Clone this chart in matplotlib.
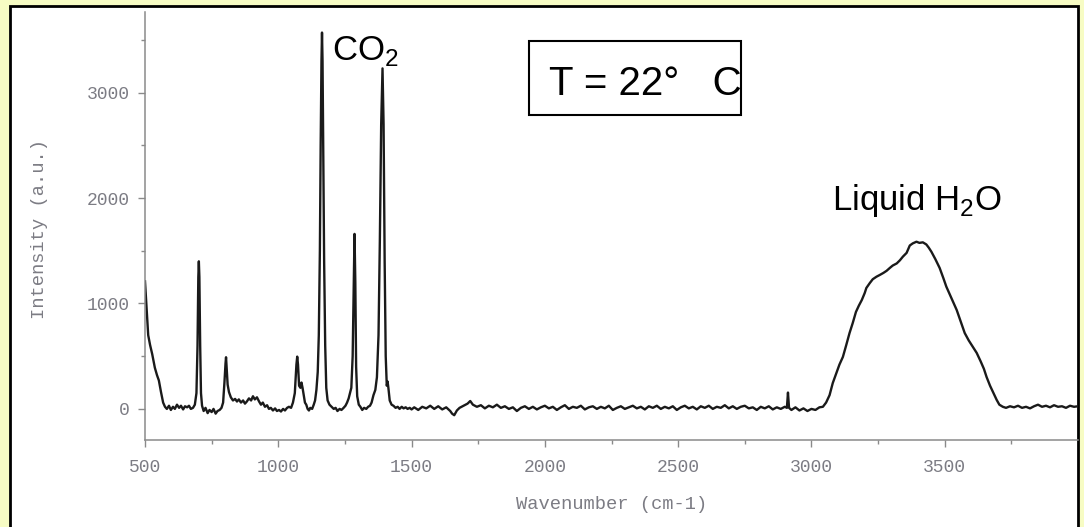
import numpy as np
import matplotlib
matplotlib.use("Agg")
import matplotlib.pyplot as plt
from matplotlib.patches import Rectangle

shift_low = [500, 505, 512, 519, 527, 537, 545, 552, 560, 568, 575, 582, 590, 597,
             605, 612, 620, 628, 635, 643, 650, 658, 665, 672, 680, 687, 693, 697,
             700, 702, 704, 707, 710, 714, 720, 727, 735, 742, 750, 757, 765, 772,
             780, 787, 793, 798, 802, 804, 806, 810, 815, 822, 830, 838, 845, 852,
             860, 868, 875, 882, 890, 898, 905, 912, 920, 928, 935, 942, 950, 958,
             965, 972, 980, 988, 995, 1003, 1010, 1018, 1025, 1033, 1040, 1048, 1055,
             1062, 1068, 1071, 1074, 1078, 1083, 1087, 1091, 1096, 1100, 1105, 1110,
             1115, 1120, 1127, 1133, 1138, 1143, 1148, 1152, 1156, 1159, 1162, 1164,
             1166, 1169, 1172, 1176, 1180, 1185, 1192, 1200, 1208, 1215, 1222, 1230,
             1237, 1245, 1252, 1258, 1264, 1269, 1274, 1279, 1283, 1286, 1289, 1292,
             1296, 1302, 1308, 1315, 1322, 1330, 1337, 1344, 1350, 1357, 1364, 1370,
             1376, 1381, 1386, 1391, 1395, 1399, 1403, 1407, 1410, 1413, 1418, 1425,
             1432, 1440, 1448, 1455, 1463, 1470, 1478, 1485, 1493, 1500]
counts_low = [1210, 1000, 700, 607, 520, 390, 320, 270, 160, 60, 20, 0, 30, -10,
              20, 0, 40, 10, 30, -5, 25, 15, 30, 0, 10, 40, 150, 600,
              1250, 1400, 1250, 600, 150, 30, -20, 10, -40, -10, -30, 0, -45, -20,
              -10, 10, 60, 250, 430, 490, 400, 230, 160, 110, 80, 95, 70, 90,
              60, 80, 50, 70, 100, 80, 120, 90, 110, 70, 40, 60, 20, 35,
              0, 10, -15, 5, -20, -10, -25, 0, -15, 10, 20, 10, 60,
              150, 420, 496, 420, 220, 200, 250, 200, 120, 60, 40, 0,
              -15, 10, 0, 40, 80, 180, 350, 700, 1500, 2500, 3300, 3570,
              3300, 2400, 1400, 600, 200, 80, 40, 20, 0, 10, -20, 0,
              -10, 10, 30, 60, 100, 150, 200, 500, 1200, 1660, 1200, 400,
              120, 40, 20, -10, 10, 0, 20, 30, 60, 130, 180, 300,
              700, 1600, 2700, 3230, 2700, 1400, 500, 220, 260, 200, 80, 40,
              30, 10, 20, 0, 20, 5, 15, 0, 10, -5]

shift_mid = [1510, 1525, 1540, 1555, 1570, 1585, 1600, 1615, 1630, 1645, 1652, 1660,
             1670, 1680, 1695, 1710, 1720, 1730, 1745, 1760, 1775, 1790, 1805, 1820, 1835,
             1850, 1865, 1880, 1895, 1910, 1925, 1940, 1955, 1970, 1985, 2000, 2015,
             2030, 2045, 2060, 2075, 2090, 2105, 2120, 2135, 2150, 2165, 2180, 2195,
             2210, 2225, 2240, 2255, 2270, 2285, 2300, 2315, 2330, 2345, 2360, 2375,
             2390, 2405, 2420, 2435, 2450, 2465, 2480, 2495, 2510, 2525, 2540, 2555,
             2570, 2585, 2600, 2615, 2630, 2645, 2660, 2675, 2690, 2705, 2720, 2735,
             2750, 2765, 2780, 2795, 2810, 2825, 2840, 2855, 2870, 2885, 2900, 2908,
             2912, 2916, 2925, 2940, 2955, 2970, 2985, 3000]
counts_mid = [15, -10, 20, 5, 30, 0, 25, -5, 15, -20, -45, -60,
              -15, 10, 30, 50, 75, 40, 20, 35, 5, 30, 15, 40, 10,
              25, 0, 15, -20, 10, 25, 0, 20, -5, 15, 30, 5,
              20, -10, 15, 35, 0, 20, 10, 30, -5, 15, 25, 0,
              20, 5, 30, -10, 10, 25, 0, 15, 30, 5, 20, -5,
              25, 10, 30, 0, 20, 5, 25, -10, 15, 30, 5, 20,
              -5, 25, 10, 30, 0, 20, 10, 35, 5, 25, 0, 20,
              30, 5, 15, -10, 20, 5, 25, -5, 15, 0, 20, 10,
              155, 10, -10, 15, -15, 5, -20, 0]

shift_water = [3015, 3030, 3043, 3055, 3068, 3080, 3095, 3105, 3118, 3130, 3143, 3155,
               3167, 3178, 3189, 3200, 3206, 3219, 3230, 3244, 3256, 3270, 3282, 3294,
               3305, 3320, 3332, 3343, 3357, 3369, 3380, 3394, 3405, 3418, 3431, 3440,
               3450, 3465, 3481, 3495, 3506, 3520, 3532, 3545, 3560, 3575, 3590, 3605,
               3620, 3635, 3647, 3657, 3670, 3683, 3695, 3705, 3718, 3730, 3745, 3760,
               3775, 3790, 3805, 3820, 3835, 3850, 3865, 3880, 3895, 3910, 3925, 3940,
               3955, 3970, 3985, 4000]
counts_water = [-10, 15, 20, 60, 130, 245, 350, 420, 493, 600, 720, 815,
                920, 980, 1033, 1100, 1147, 1194, 1230, 1254, 1270, 1290, 1310, 1337,
                1360, 1380, 1410, 1444, 1480, 1550, 1570, 1586, 1575, 1580, 1560, 1530,
                1491, 1420, 1337, 1240, 1160, 1080, 1010, 938, 830, 720, 650, 590,
                531, 450, 380, 303, 220, 150, 85, 40, 20, 10, 25, 15,
                30, 10, 20, 5, 25, 40, 20, 30, 15, 35, 20, 25,
                10, 30, 20, 25]

x_ticks = [500, 1000, 1500, 2000, 2500, 3000, 3500]
y_ticks = [0, 1000, 2000, 3000]

plt.rcParams['mathtext.fontset'] = 'custom'
plt.rcParams['mathtext.rm'] = 'Liberation Sans'

W, H = 1084, 527
fig = plt.figure(figsize=(W / 100, H / 100), dpi=100, facecolor='#F7FCC4')

# white slide panel with black frame, kept behind the axes
fig.patches.append(Rectangle((10 / W, -0.05), 1068 / W, 1.05 - 6 / H,
                             transform=fig.transFigure, facecolor='white',
                             edgecolor='black', linewidth=2.0, zorder=-10))

ax = fig.add_axes([145 / W, 1 - 440 / H, 933 / W, 428 / H])
ax.patch.set_visible(False)

wn = np.concatenate([shift_low, shift_mid, shift_water])
inten = np.concatenate([counts_low, counts_mid, counts_water])
ax.plot(wn, inten, color='#1a1a1a', linewidth=1.7)

ax.set_xlim(500, 4000)
ax.set_ylim(-295, 3765)

ax.set_xticks(x_ticks)
ax.set_yticks(y_ticks)
ax.set_xticks(np.arange(750, 4000, 500), minor=True)
ax.set_yticks(np.arange(500, 3600, 1000), minor=True)

grey = '#7c7c84'
for side in ['top', 'right']:
    ax.spines[side].set_visible(False)
for side in ['left', 'bottom']:
    ax.spines[side].set_color('#8a8a8a')
    ax.spines[side].set_linewidth(1.1)

mono = 'Liberation Mono'
ax.tick_params(which='major', direction='out', length=5, width=1.0,
               color='#8a8a8a', labelcolor=grey, labelsize=13, pad=6)
ax.tick_params(axis='x', which='major', pad=9)
ax.tick_params(which='minor', direction='out', length=3, width=1.0, color='#8a8a8a')
for lab in ax.get_xticklabels() + ax.get_yticklabels():
    lab.set_fontfamily(mono)

ax.set_xlabel('Wavenumber (cm-1)', fontfamily=mono, fontsize=13.5, color=grey)
ax.set_ylabel('Intensity (a.u.)', fontfamily=mono, fontsize=13.5, color=grey)
ax.xaxis.set_label_coords(0.5, -0.13)
ax.yaxis.set_label_coords(-0.104, 0.494)

sans = 'Liberation Sans'
fig.text(332 / W, 1 - 60 / H, 'CO$_\\mathregular{2}$', fontfamily=sans,
         fontsize=25, ha='left', va='baseline')
fig.text(832 / W, 1 - 210 / H, 'Liquid H$_\\mathregular{2}$O', fontfamily=sans,
         fontsize=25, ha='left', va='baseline')
fig.text(549 / W, 1 - 95 / H, 'T = 22°   C', fontfamily=sans,
         fontsize=29, ha='left', va='baseline')
fig.patches.append(Rectangle((529 / W, 1 - 115 / H), 212 / W, 74 / H,
                             transform=fig.transFigure, facecolor='none',
                             edgecolor='black', linewidth=1.5, zorder=5))

fig.savefig('out.png', dpi=100, facecolor=fig.get_facecolor())
